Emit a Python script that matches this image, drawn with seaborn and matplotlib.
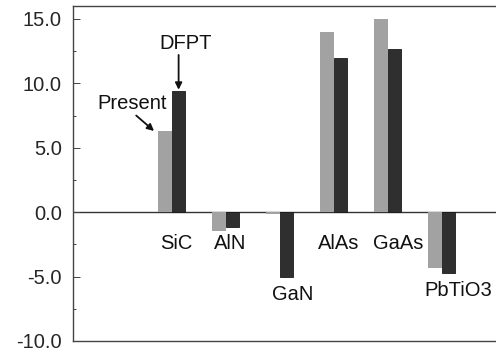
import matplotlib
matplotlib.use("Agg")
import matplotlib.pyplot as plt
import seaborn as sns
import pandas as pd
import numpy as np

categories = ["SiC", "AlN", "GaN", "AlAs", "GaAs", "PbTiO3"]
present = [6.3, -1.5, -0.15, 14.0, 15.0, -4.3]
dfpt = [9.4, -1.15, -5.05, 12.0, 12.7, -4.75]
series = ["Present", "DFPT"]
yticks = [-10.0, -5.0, 0.0, 5.0, 10.0, 15.0]

df = pd.DataFrame({
    "material": categories * 2,
    "value": present + dfpt,
    "method": [series[0]] * len(categories) + [series[1]] * len(categories),
})

sns.set_style("white")
plt.rcParams["font.family"] = ["Liberation Sans", "DejaVu Sans"]
FS = 14.5

fig = plt.figure(figsize=(4.96, 3.51), dpi=100)
ax = fig.add_axes([73 / 496, 10 / 351, 423 / 496, 335 / 351])

sns.barplot(data=df, x="material", y="value", hue="method", order=categories,
            hue_order=series, palette=["#a2a2a2", "#2f2f2f"], width=0.5,
            saturation=1, ax=ax, legend=False, edgecolor="none", linewidth=0)
for p in ax.patches[len(categories):]:
    p.set_edgecolor("#1a1a1a")
    p.set_linewidth(0.6)

ax.set_xlim(-1.83, 6.0)
ax.set_ylim(-10, 16)
ax.axhline(0, color="#333333", lw=1.0, zorder=0.5)

ax.set_yticks(yticks)
ax.set_yticklabels([f"{t:.1f}" for t in yticks], fontsize=FS)
ax.set_yticks(np.arange(-7.5, 15, 5.0), minor=True)
ax.tick_params(axis="y", which="major", direction="in", length=5, width=0.7,
               color="#444444", pad=8, left=True)
ax.tick_params(axis="y", which="minor", direction="in", length=2.5, width=0.7,
               color="#444444", left=True)
ax.set_xticks([])
ax.set_xlabel("")
ax.set_ylabel("")

for side in ["left", "top", "bottom"]:
    ax.spines[side].set_visible(True)
    ax.spines[side].set_color("#444444")
    ax.spines[side].set_linewidth(1.0)
ax.spines["right"].set_visible(False)

label_dx = [0.09, 0.07, 0.24, 0.09, 0.19, 0.31]
for i, name in enumerate(categories):
    lo = min(0.0, present[i], dfpt[i])
    y = -2.45 if lo > -2.0 else lo - 1.35
    ax.text(i + label_dx[i], y, name, ha="center", va="center", fontsize=FS,
            color="#111111")

ax.text(-0.74, 8.45, "Present", ha="center", va="center", fontsize=FS, color="#111111")
ax.annotate("", xy=(-0.33, present[0]), xytext=(-0.66, 7.5),
            arrowprops=dict(arrowstyle="-|>", color="#111111", lw=1.3,
                            mutation_scale=10, shrinkA=0, shrinkB=0))
ax.text(0.25, 13.1, "DFPT", ha="center", va="center", fontsize=FS, color="#111111")
ax.annotate("", xy=(0.125, dfpt[0] + 0.1), xytext=(0.125, 12.2),
            arrowprops=dict(arrowstyle="-|>", color="#111111", lw=1.3,
                            mutation_scale=10, shrinkA=0, shrinkB=0))

fig.savefig("out.png", dpi=100)
